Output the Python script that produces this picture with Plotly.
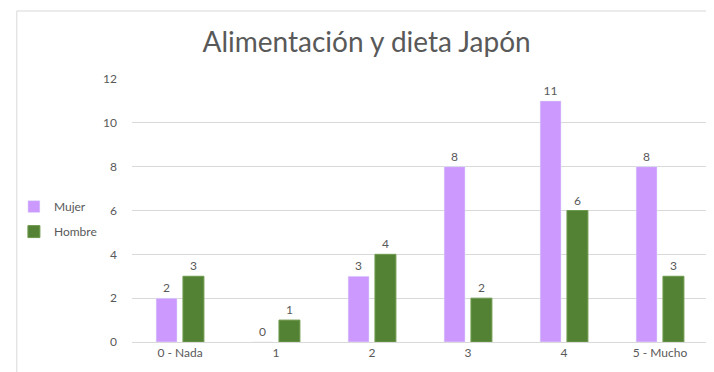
import plotly.graph_objects as go

categories = ["0 - Nada", "1", "2", "3", "4", "5 - Mucho"]
mujer = [2, 0, 3, 8, 11, 8]
hombre = [3, 1, 4, 2, 6, 3]
y_ticks = [0, 2, 4, 6, 8, 10, 12]

FONT = "Lato, 'Open Sans', sans-serif"
GRAY = "#595959"

fig = go.Figure()
fig.add_trace(go.Bar(name="Mujer", x=categories, y=mujer, marker_color="#CC99FF",
                     legendgroup="m",
                     text=mujer, textposition="outside", cliponaxis=False,
                     textfont=dict(color=GRAY, size=12)))
fig.add_trace(go.Bar(name="Hombre", x=categories, y=hombre, marker_color="#548235",
                     legendgroup="h",
                     marker_line=dict(color="#6E9A4E", width=1),
                     text=hombre, textposition="outside", cliponaxis=False,
                     textfont=dict(color=GRAY, size=12)))

# page body has an 8px default margin, so the figure is 8px smaller
fig.update_layout(
    width=706, height=364,
    margin=dict(l=118, r=6, t=71, b=30),
    paper_bgcolor="white", plot_bgcolor="white",
    font=dict(family=FONT, color=GRAY, size=12),
    title=dict(text="Alimentación y dieta Japón", x=0.508, xanchor="center",
               y=0.905, yanchor="middle",
               font=dict(family=FONT, size=28, color=GRAY)),
    barmode="group", bargap=0.44, bargroupgap=0.22,
    showlegend=True,
    legend=dict(x=-0.205, xanchor="left", y=0.57, yanchor="top",
                font=dict(size=12, color=GRAY), tracegroupgap=6,
                itemwidth=30,
                bgcolor="rgba(0,0,0,0)"),
)
fig.update_yaxes(range=[0, 12], tickvals=y_ticks, showgrid=True, gridcolor="#D9D9D9",
                 gridwidth=1, zeroline=False, showline=False, ticks="",
                 ticklabelstandoff=14, tickfont=dict(size=12, color=GRAY))
fig.update_xaxes(showline=True, linecolor="#D9D9D9", linewidth=1, ticks="",
                 tickfont=dict(size=12, color=GRAY))

# chart border (left and top visible in reference)
fig.add_shape(type="line", xref="paper", yref="paper",
              x0=-0.2, x1=1.2, y0=1.2586, y1=1.2586,
              line=dict(color="#D9D9D9", width=1))
fig.add_shape(type="line", xref="paper", yref="paper",
              x0=-0.2, x1=-0.2, y0=-0.2, y1=1.2586,
              line=dict(color="#D9D9D9", width=1))

fig.write_html("out.html")
